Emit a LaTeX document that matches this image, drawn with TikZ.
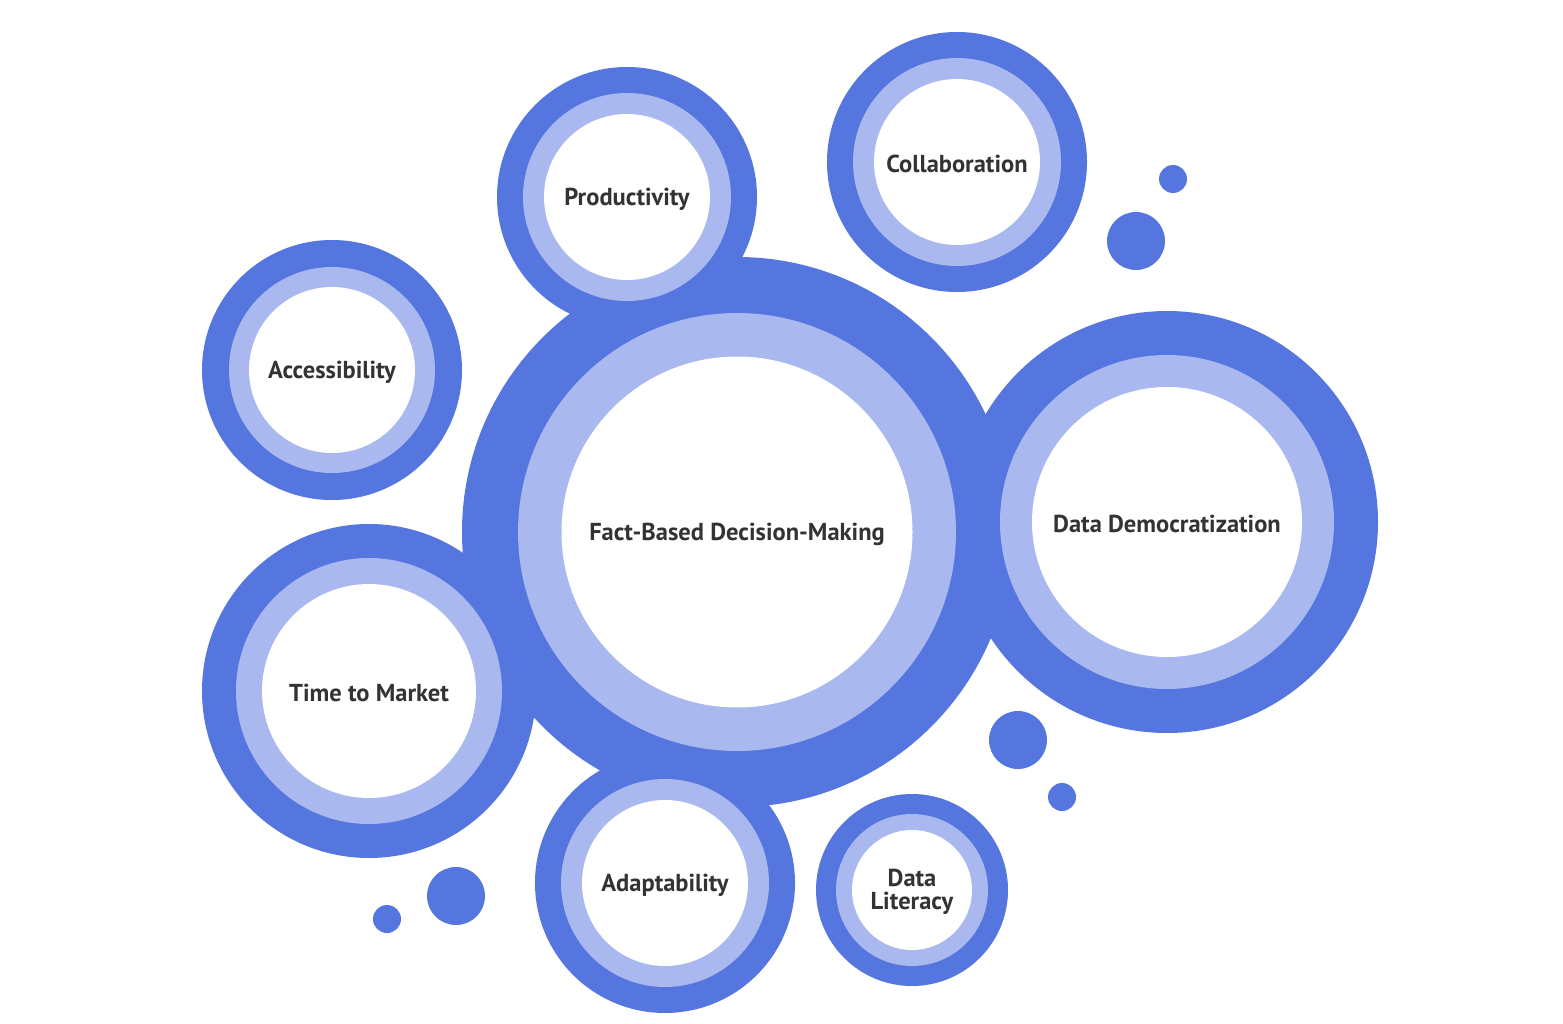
\documentclass[tikz,border=0pt]{standalone}
\usepackage{fontspec}
\setmainfont{PT Sans}
\definecolor{darkb}{HTML}{5576DE}
\definecolor{lightb}{HTML}{A9B8EE}
\definecolor{txt}{HTML}{333333}
\tikzset{
  ring/.style={circle, draw=none, inner sep=0pt, minimum size=#1},
  outerring/.style={ring=#1, fill=darkb},
  midring/.style={ring=#1, fill=lightb},
  innerring/.style={ring=#1, fill=white},
  lbl/.style={font=\fontsize{24.5}{26}\selectfont\bfseries, text=txt, align=center, inner sep=0pt},
  dot/.style={ring=#1, fill=darkb}
}
\newcommand\bubble[7]{%
  \node[outerring=#4] (#1-o) at (#2,#3) {};
  \node[midring=#5] (#1-m) at (#2,#3) {};
  \node[innerring=#6] (#1) at (#2,#3) {};
  \node[lbl] (#1-t) at ([yshift=-2pt]#1.center) {#7};
}
\begin{document}
\begin{tikzpicture}[x=1pt,y=-1pt]
\fill[white] (0,0) rectangle (1563,1024);
\useasboundingbox (0,0) rectangle (1563,1024);
\bubble{fact}{737}{532}{550}{438}{351}{Fact-Based Decision-Making}
\bubble{prod}{627}{197}{260}{208}{166}{Productivity}
\bubble{collab}{957}{162}{260}{208}{166}{Collaboration}
\bubble{access}{332}{370}{260}{206}{166}{Accessibility}
\bubble{ttm}{369}{691}{334}{266}{214}{Time to Market}
\bubble{demo}{1167}{522}{422}{334}{270}{Data Democratization}
\bubble{adapt}{665}{883}{260}{208}{166}{Adaptability}
\bubble{lit}{912}{890}{192}{152}{120}{Data\\[-3pt]Literacy}
\node[dot=28] (d1) at (1173,179) {};
\node[dot=58] (d2) at (1136,241) {};
\node[dot=58] (d3) at (1018,740) {};
\node[dot=28] (d4) at (1062,797) {};
\node[dot=58] (d5) at (456,896) {};
\node[dot=28] (d6) at (387,919) {};
\end{tikzpicture}
\end{document}
